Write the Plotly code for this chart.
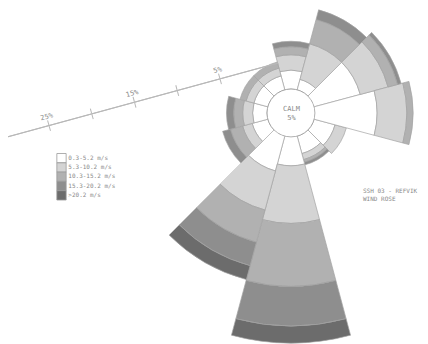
import math
import plotly.graph_objects as go

# ---------------- data (percent of time) ----------------
DIRECTIONS = [0, 30, 60, 90, 120, 150, 180, 210, 240, 270, 300, 330]
SPEED_BINS = ["0.3-5.2 m/s", "5.3-10.2 m/s", "10.3-15.2 m/s", "15.3-20.2 m/s", ">20.2 m/s"]
FREQ_0_3_TO_5_2 = [2.1, 1.2, 5.3, 6.9, 2.4, 2.0, 3.2, 4.0, 1.8, 1.6, 1.6, 1.6]
FREQ_5_3_TO_10_2 = [1.7, 4.1, 3.2, 3.3, 1.3, 0.7, 6.4, 4.5, 1.1, 1.1, 0.9, 0.9]
FREQ_10_3_TO_15_2 = [0.9, 2.8, 1.1, 0.7, None, 0.3, 7.0, 3.7, 1.4, 1.0, 0.7, 0.7]
FREQ_15_3_TO_20_2 = [0.6, 1.1, 0.4, None, None, 0.3, 4.4, 2.7, 0.9, 0.8, None, None]
FREQ_ABOVE_20_2 = [None, None, None, None, None, None, 1.9, 1.6, None, None, None, None]
CALM_PCT = 5
AXIS_TICK_VALUES = [5, 10, 15, 20, 25]
AXIS_TICK_LABELS = ["5%", "", "15%", "", "25%"]
TITLE_LINES = ["SSH 03 - REFVIK", "WIND ROSE"]

# ---------------- style / geometry ----------------
W, H = 428, 344
BAND_COLORS = ["#ffffff", "#d4d4d4", "#b1b1b1", "#8e8e8e", "#6c6c6c"]
OUTLINE = "#a4a4a4"
TEXT = "#8a8a8a"
AXIS_COLOR = "#b8b8b8"
FONT = "DejaVu Sans Mono"

CX, CY = 291, 113          # rose centre (px)
HOLE_PX = 24               # calm circle radius
PX_PER_PCT = 9.0           # bar scale (px per percent)

# the rose is split over polar frames sharing one centre, so long petals fit the page
# (subplot id, sector in layout degrees or None, frame radius px, directions drawn there)
FRAMES = [
    ("polar", None, 110, [0, 30, 120, 150, 240, 270, 300, 330]),
    ("polar5", [-20, 50], 126, [60, 90]),
    ("polar6", [225, 300], 231, [180, 210]),
]

AX_X0, AX_Y0 = 278.1, 63.0  # start of the scale line (px)
AX_ANGLE = 195.28
AX_RANGE = [-1.8, 29.8]
AX_PX_PER_PCT = 8.86
AX_SECTOR = [193, 198]


def dom_x(a, b):
    return [max(0, a / W), min(1, b / W)]


def dom_y(top, bottom):
    return [max(0, (H - bottom) / H), min(1, (H - top) / H)]


def sector_bbox(sector):
    if sector is None:
        return [-1, -1, 1, 1]
    a0 = sector[0] % 360
    a1 = a0 + (sector[1] - sector[0])
    c0, s0 = math.cos(math.radians(a0)), math.sin(math.radians(a0))
    c1, s1 = math.cos(math.radians(a1)), math.sin(math.radians(a1))
    if (a0 <= 90 <= a1) or (a0 > 90 and a1 >= 450):
        y1 = 1
    elif s0 <= 0 and s1 <= 0:
        y1 = 0
    else:
        y1 = max(s0, s1)
    if (a0 <= 180 <= a1) or (a0 > 180 and a1 >= 540):
        x0 = -1
    elif c0 >= 0 and c1 >= 0:
        x0 = 0
    else:
        x0 = min(c0, c1)
    if (a0 <= 270 <= a1) or (a0 > 270 and a1 >= 630):
        y0 = -1
    elif s0 >= 0 and s1 >= 0:
        y0 = 0
    else:
        y0 = min(s0, s1)
    if a1 >= 360:
        x1 = 1
    elif c0 <= 0 and c1 <= 0:
        x1 = 0
    else:
        x1 = max(c0, c1)
    return [x0, y0, x1, y1]


fig = go.Figure()

series = [FREQ_0_3_TO_5_2, FREQ_5_3_TO_10_2, FREQ_10_3_TO_15_2, FREQ_15_3_TO_20_2, FREQ_ABOVE_20_2]
layout_polars = {}
for sp, sector, rad, dirs in FRAMES:
    for name, vals, col in zip(SPEED_BINS, series, BAND_COLORS):
        th = [d for d in DIRECTIONS if d in dirs]
        rr = [v for d, v in zip(DIRECTIONS, vals) if d in dirs]
        fig.add_trace(go.Barpolar(
            r=rr, theta=th, width=[30] * len(th), name=name,
            marker=dict(color=col, line=dict(color=OUTLINE, width=0.7)),
            subplot=sp, showlegend=False, hoverinfo="skip"))
    x0, y0, x1, y1 = sector_bbox(sector)
    cfg = dict(
        domain=dict(x=dom_x(CX + x0 * rad, CX + x1 * rad), y=dom_y(CY - y1 * rad, CY - y0 * rad)),
        hole=HOLE_PX / rad, barmode="stack", bgcolor="rgba(0,0,0,0)",
        radialaxis=dict(range=[0, (rad - HOLE_PX) / PX_PER_PCT], visible=False),
        angularaxis=dict(direction="clockwise", rotation=90, visible=False),
    )
    if sector is not None:
        cfg["sector"] = sector
    layout_polars[sp] = cfg

# scale axis carriers
for sp in ["polar2", "polar3"]:
    fig.add_trace(go.Scatterpolar(r=[0], theta=[195], mode="markers", marker=dict(opacity=0),
                                  subplot=sp, showlegend=False, hoverinfo="skip"))
# calm circle carrier
fig.add_trace(go.Scatterpolar(r=[0], theta=[0], mode="markers", marker=dict(opacity=0),
                              subplot="polar4", showlegend=False, hoverinfo="skip"))

# legend as swatches
fig.add_trace(go.Scatter(
    x=[0.5] * len(SPEED_BINS), y=SPEED_BINS, text=SPEED_BINS, mode="markers+text",
    textposition="middle right", cliponaxis=False,
    textfont=dict(family=FONT, size=6, color=TEXT),
    marker=dict(symbol="square", size=9.3, color=BAND_COLORS, line=dict(color="#9a9a9a", width=0.8)),
    showlegend=False, hoverinfo="skip", xaxis="x", yaxis="y"))

R2 = (AX_RANGE[1] - AX_RANGE[0]) * AX_PX_PER_PCT
bx0, by0, bx1, by1 = sector_bbox(AX_SECTOR)
ax_dom_x = dom_x(AX_X0 + bx0 * R2, AX_X0 + bx1 * R2)
ax_dom_y = dom_y(AX_Y0 - by1 * R2, AX_Y0 - by0 * R2)

axis_common = dict(
    range=AX_RANGE, angle=AX_ANGLE, showline=True, linecolor=AXIS_COLOR, linewidth=1,
    tickvals=AXIS_TICK_VALUES, ticktext=AXIS_TICK_LABELS, ticklen=5, tickcolor=AXIS_COLOR,
    tickwidth=1, showgrid=False, side="clockwise",
    tickfont=dict(family=FONT, size=7, color=TEXT))

layout_polars["polar2"] = dict(
    domain=dict(x=ax_dom_x, y=ax_dom_y), sector=AX_SECTOR, bgcolor="rgba(0,0,0,0)",
    radialaxis=dict(ticks="outside", showticklabels=True, **axis_common),
    angularaxis=dict(visible=False))
layout_polars["polar3"] = dict(
    domain=dict(x=ax_dom_x, y=ax_dom_y), sector=AX_SECTOR, bgcolor="rgba(0,0,0,0)",
    radialaxis=dict(ticks="inside", showticklabels=False, **axis_common),
    angularaxis=dict(visible=False))
layout_polars["polar4"] = dict(
    domain=dict(x=dom_x(CX - HOLE_PX, CX + HOLE_PX), y=dom_y(CY - HOLE_PX, CY + HOLE_PX)),
    bgcolor="white",
    radialaxis=dict(visible=False, range=[0, 1]),
    angularaxis=dict(showline=True, linecolor=OUTLINE, linewidth=1, showticklabels=False,
                     ticks="", showgrid=False))

fig.update_layout(
    width=W, height=H, margin=dict(l=0, r=0, t=0, b=0),
    paper_bgcolor="white", plot_bgcolor="rgba(0,0,0,0)", showlegend=False,
    xaxis=dict(domain=dom_x(56.5, 66.5), range=[0, 1], visible=False, fixedrange=True),
    yaxis=dict(domain=dom_y(153.5, 200), range=[len(SPEED_BINS) - 0.5, -0.5], type="category",
               categoryarray=SPEED_BINS, visible=False, fixedrange=True),
    annotations=[
        dict(text="CALM<br>%d%%" % CALM_PCT, x=CX / W, y=(H - CY) / H, xref="paper", yref="paper",
             xanchor="center", yanchor="middle", showarrow=False,
             font=dict(family=FONT, size=7, color=TEXT)),
        dict(text="<br>".join(TITLE_LINES), x=361 / W, y=(H - 194) / H, xref="paper", yref="paper",
             xanchor="left", yanchor="middle", align="left", showarrow=False,
             font=dict(family=FONT, size=6, color=TEXT)),
    ],
    **layout_polars,
)

fig.write_html("out.html")
